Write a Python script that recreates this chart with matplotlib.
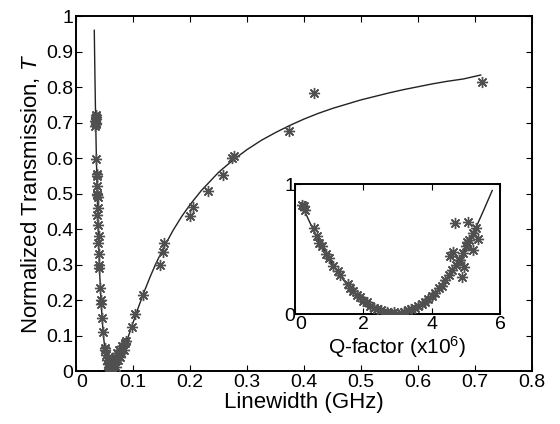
import matplotlib
matplotlib.use("Agg")
import matplotlib.pyplot as plt

plt.rcParams['font.family'] = ['Liberation Sans', 'DejaVu Sans']
plt.rcParams['mathtext.fontset'] = 'custom'
plt.rcParams['mathtext.it'] = 'Liberation Sans:italic'
plt.rcParams['mathtext.rm'] = 'Liberation Sans'

# ---- main plot: fitted curve ----
fit_linewidth = [0.0318, 0.033, 0.034, 0.035, 0.036, 0.037, 0.038, 0.039, 0.040,
                 0.0415, 0.043, 0.046, 0.048, 0.050, 0.052, 0.054, 0.056, 0.058,
                 0.060, 0.062, 0.064, 0.066, 0.068, 0.070, 0.075, 0.080, 0.085,
                 0.090, 0.10, 0.11, 0.12, 0.13, 0.14, 0.155, 0.17, 0.185, 0.20,
                 0.22, 0.25, 0.275, 0.30, 0.325, 0.35, 0.375, 0.40, 0.425, 0.45,
                 0.475, 0.50, 0.525, 0.55, 0.575, 0.60, 0.625, 0.65, 0.68, 0.71]
fit_T = [0.96, 0.826, 0.727, 0.640, 0.563, 0.494, 0.433, 0.379, 0.331,
         0.268, 0.216, 0.137, 0.098, 0.068, 0.045, 0.028, 0.016, 0.007,
         0.0025, 0.0003, 0.0002, 0.002, 0.005, 0.010, 0.026, 0.045, 0.067,
         0.090, 0.137, 0.183, 0.226, 0.266, 0.303, 0.352, 0.396, 0.435, 0.469,
         0.509, 0.560, 0.594, 0.624, 0.650, 0.672, 0.692, 0.710, 0.726, 0.740,
         0.752, 0.764, 0.774, 0.784, 0.793, 0.801, 0.809, 0.816, 0.823, 0.834]

# ---- main plot: measured points ----
meas_linewidth = [0.0341, 0.0350, 0.0338, 0.0352, 0.0345, 0.0336, 0.0348,
                  0.0355, 0.0361, 0.0368, 0.0358, 0.0369, 0.0362, 0.0375,
                  0.0382, 0.0372, 0.0384, 0.0395, 0.0390, 0.0400, 0.0407,
                  0.0402, 0.0424, 0.0435, 0.0442, 0.0454, 0.0473, 0.0502,
                  0.0510, 0.0520, 0.0537, 0.0552, 0.0573, 0.0585, 0.0600,
                  0.0615, 0.0630, 0.0650, 0.0665, 0.0680, 0.0700, 0.0715,
                  0.0733, 0.0750, 0.0762, 0.0788, 0.0812, 0.0834, 0.0857,
                  0.0878, 0.0972, 0.1035, 0.117, 0.148, 0.152, 0.155, 0.200,
                  0.205, 0.232, 0.258, 0.274, 0.277, 0.374, 0.418, 0.712]
meas_T = [0.72, 0.71, 0.705, 0.70, 0.695, 0.69, 0.715,
          0.597, 0.555, 0.55, 0.52, 0.50, 0.495, 0.49,
          0.46, 0.44, 0.41, 0.38, 0.36, 0.33, 0.30,
          0.29, 0.235, 0.20, 0.19, 0.15, 0.11, 0.065,
          0.06, 0.045, 0.03, 0.02, 0.01, 0.005, 0.02,
          0.01, 0.03, 0.005, 0.02, 0.04, 0.01, 0.05,
          0.03, 0.06, 0.04, 0.05, 0.07, 0.06, 0.08,
          0.085, 0.125, 0.16, 0.214, 0.30, 0.335, 0.36, 0.437,
          0.462, 0.507, 0.552, 0.60, 0.607, 0.677, 0.784, 0.815]

# ---- inset: fitted curve ----
fit_Q = [0.23, 0.4, 0.5, 0.75, 1.0, 1.25, 1.5, 1.75, 2.0, 2.25, 2.5, 2.75,
         2.95, 3.25, 3.5, 3.75, 4.0, 4.25, 4.5, 4.75, 5.0, 5.25, 5.5, 5.77]
fit_TQ = [0.82, 0.722, 0.666, 0.537, 0.422, 0.321, 0.233, 0.160, 0.100, 0.054,
          0.022, 0.004, 0.0, 0.011, 0.037, 0.077, 0.133, 0.204, 0.291, 0.392,
          0.509, 0.640, 0.787, 0.95]

# ---- inset: measured points ----
meas_Q = [0.20, 0.25, 0.30, 0.55, 0.65, 0.70, 0.80, 0.90, 1.00, 1.10, 1.25,
          1.30, 1.55, 1.60, 1.70, 1.80, 1.90, 2.00, 2.10, 2.20, 2.30, 2.40,
          2.50, 2.60, 2.70, 2.80, 2.90, 3.00, 3.10, 3.20, 3.30, 3.40, 3.50,
          3.60, 3.70, 3.80, 3.90, 4.00, 4.10, 4.20, 4.30, 4.40, 4.50, 4.60,
          4.70, 4.80, 4.90, 5.00, 5.10, 5.20, 5.30,
          4.69, 5.07, 5.36, 5.04, 4.63, 4.83, 4.88, 5.20, 4.54, 4.95]
meas_TQ = [0.84, 0.83, 0.80, 0.66, 0.60, 0.55, 0.52, 0.46, 0.43, 0.37, 0.33,
           0.30, 0.23, 0.20, 0.18, 0.15, 0.13, 0.10, 0.09, 0.06, 0.05, 0.04,
           0.03, 0.02, 0.015, 0.01, 0.02, 0.005, 0.01, 0.02, 0.03, 0.04, 0.05,
           0.06, 0.08, 0.09, 0.12, 0.14, 0.16, 0.20, 0.22, 0.26, 0.30, 0.34,
           0.38, 0.42, 0.47, 0.52, 0.57, 0.62, 0.66,
           0.70, 0.71, 0.58, 0.556, 0.48, 0.415, 0.287, 0.49, 0.45, 0.36]

main_xticks = [0, 0.1, 0.2, 0.3, 0.4, 0.5, 0.6, 0.7, 0.8]
main_xticklabels = ['0', '0.1', '0.2', '0.3', '0.4', '0.5', '0.6', '0.7', '0.8']
main_yticks = [0, 0.1, 0.2, 0.3, 0.4, 0.5, 0.6, 0.7, 0.8, 0.9, 1.0]
main_yticklabels = ['0', '0.1', '0.2', '0.3', '0.4', '0.5', '0.6', '0.7', '0.8', '0.9', '1']
inset_xticks = [0, 2, 4, 6]
inset_xticklabels = ['0', '2', '4', '6']
inset_yticks = [0, 1]
inset_yticklabels = ['0', '1']

marker_color = '#505050'
marker = (8, 2, 0)

fig = plt.figure(figsize=(5.6, 4.24), dpi=100)
ax = fig.add_axes([0.136, 0.125, 0.814, 0.837])
ax.plot(fit_linewidth, fit_T, color='#222222', lw=1.0, zorder=2)
ax.plot(meas_linewidth, meas_T, linestyle='none', marker=marker, ms=8,
        mec=marker_color, mfc=marker_color, mew=1.0, zorder=3)
ax.set_xlim(0, 0.8)
ax.set_ylim(0, 1)
ax.set_xticks(main_xticks)
ax.set_xticklabels(main_xticklabels)
ax.set_yticks(main_yticks)
ax.set_yticklabels(main_yticklabels)
ax.tick_params(direction='in', top=True, right=True, labelsize=14, length=4, width=0.8, pad=2)
ax.get_xticklabels()[0].set_horizontalalignment('left')
ax.set_xlabel('Linewidth (GHz)', fontsize=16, labelpad=1)
ax.set_ylabel('Normalized Transmission, $T$', fontsize=16, labelpad=3)
for s in ax.spines.values():
    s.set_linewidth(1.4)

ins = fig.add_axes([0.527, 0.259, 0.366, 0.307])
ins.plot(fit_Q, fit_TQ, color='#222222', lw=1.0, zorder=2)
ins.plot(meas_Q, meas_TQ, linestyle='none', marker=marker, ms=8,
         mec=marker_color, mfc=marker_color, mew=1.0, zorder=3)
ins.set_xlim(0, 6)
ins.set_ylim(0, 1)
ins.set_xticks(inset_xticks)
ins.set_xticklabels(inset_xticklabels)
ins.set_yticks(inset_yticks)
ins.set_yticklabels(inset_yticklabels)
ins.tick_params(direction='in', top=True, right=True, labelsize=14, length=4, width=0.8, pad=1)
ins.tick_params(axis='y', pad=0)
ins.get_xticklabels()[0].set_horizontalalignment('left')
ins.set_xlabel('Q-factor (x10$^6$)', fontsize=15, labelpad=1)
for s in ins.spines.values():
    s.set_linewidth(1.4)

fig.savefig('out.png', dpi=100)
